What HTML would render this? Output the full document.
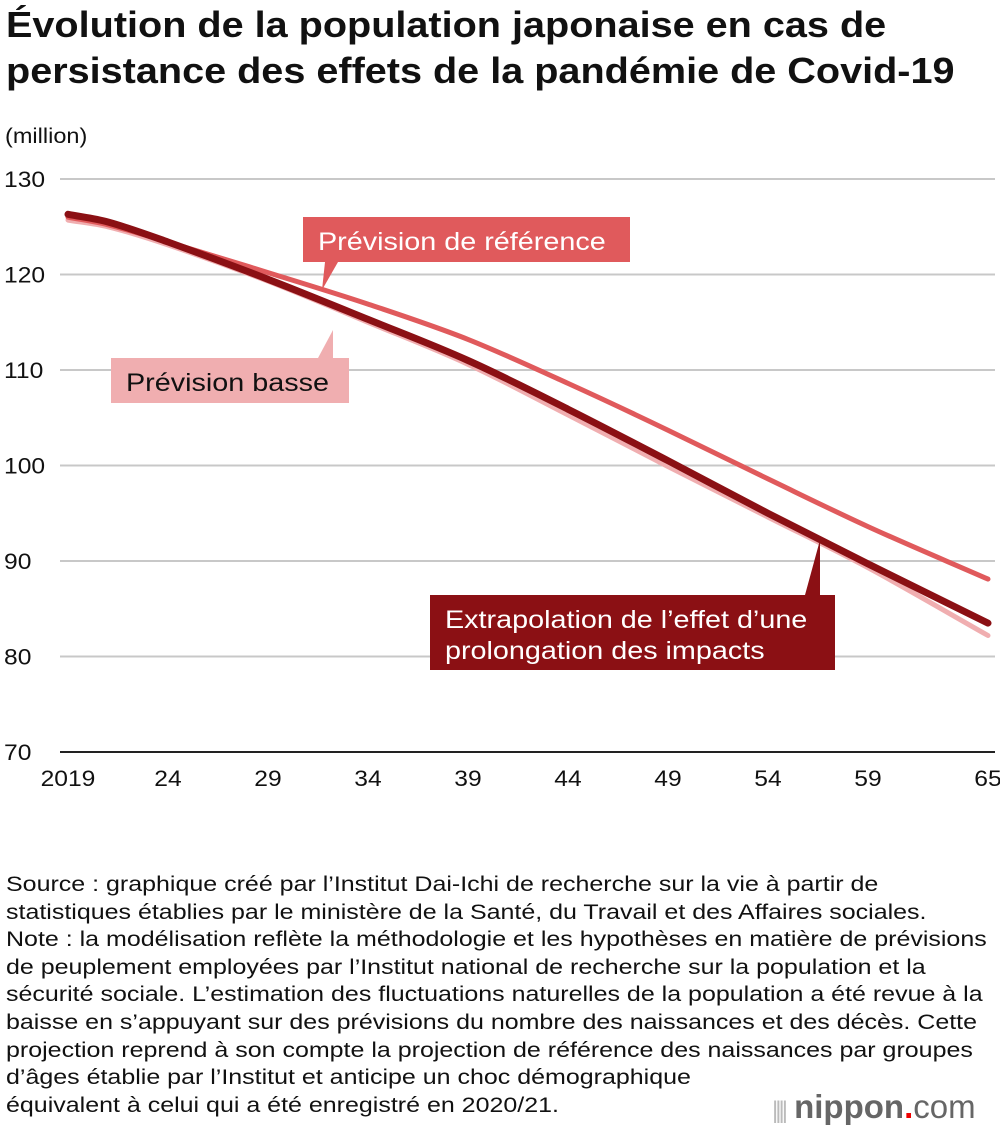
<!DOCTYPE html>
<html><head><meta charset="utf-8"><style>
body{margin:0;background:#fff;font-family:"Liberation Sans",Arial,sans-serif;}
#wrap{position:relative;width:1000px;height:1126px;overflow:hidden;}
h1{position:absolute;left:6px;top:2px;margin:0;font-size:36px;line-height:46px;font-weight:bold;color:#111;transform:scaleX(1.1);transform-origin:0 0;white-space:nowrap;}
#note{position:absolute;left:6px;top:871px;font-size:21px;line-height:27.6px;color:#111;margin:0;transform:scaleX(1.19);transform-origin:0 0;white-space:nowrap;}
#logo{position:absolute;left:772px;top:1088px;font-size:33px;color:#666;font-weight:bold;}
</style></head><body>
<div id="wrap">
<h1>Évolution de la population japonaise en cas de<br>persistance des effets de la pandémie de Covid-19</h1>
<svg id="chart" width="1000" height="860" style="position:absolute;left:0;top:0"></svg>
<p id="note">Source : graphique créé par l’Institut Dai-Ichi de recherche sur la vie à partir de<br>statistiques établies par le ministère de la Santé, du Travail et des Affaires sociales.<br>Note : la modélisation reflète la méthodologie et les hypothèses en matière de prévisions<br>de peuplement employées par l’Institut national de recherche sur la population et la<br>sécurité sociale. L’estimation des fluctuations naturelles de la population a été revue à la<br>baisse en s’appuyant sur des prévisions du nombre des naissances et des décès. Cette<br>projection reprend à son compte la projection de référence des naissances par groupes<br>d’âges établie par l’Institut et anticipe un choc démographique<br>équivalent à celui qui a été enregistré en 2020/21.</p>
<div id="logo"><span style="font-weight:normal;color:#bbb;font-size:24px;letter-spacing:-3px">||||</span> nippon<span style="color:#e00">.</span><span style="font-weight:normal">com</span></div>
</div>
<script>
const years=[2019,2021,2024,2029,2034,2039,2044,2049,2054,2059,2065];
const refVals=[126.0,125.2,123.4,120.2,116.9,113.2,108.6,103.7,98.6,93.6,88.1];
const lowVals=[125.7,125.0,123.1,119.3,115.0,110.6,105.3,99.9,94.6,89.3,82.2];
const proVals=[126.3,125.5,123.4,119.5,115.3,111.0,105.9,100.5,95.0,89.7,83.5];
const yTicks=[70,80,90,100,110,120,130];
const xTicks=[2019,2024,2029,2034,2039,2044,2049,2054,2059,2065];
const xTickLabels=["2019","24","29","34","39","44","49","54","59","65"];
const NS="http://www.w3.org/2000/svg";
const svg=document.getElementById('chart');
const X=v=>68+(v-2019)*20;
const Y=v=>179+(130-v)*9.55;
function mk(t,a,p){const e=document.createElementNS(NS,t);for(const k in a)e.setAttribute(k,a[k]);(p||svg).appendChild(e);return e;}
function stretch(el,f){const w=el.getComputedTextLength();el.setAttribute('textLength',(w*f).toFixed(1));el.setAttribute('lengthAdjust','spacingAndGlyphs');}
let t=mk('text',{x:5,y:143,'font-size':21,fill:'#111'});t.textContent='(million)';


stretch(t,1.12);
yTicks.forEach(v=>{
 const l=mk('line',{x1:60,x2:995,y1:Y(v),y2:Y(v),stroke:v===70?'#222':'#c8c8c8','stroke-width':2});
 
 
 const tx=mk('text',{x:4,y:Y(v)+8,'font-size':22,fill:'#111'});tx.textContent=v;
 
 
 stretch(tx,1.12);
});
xTicks.forEach((v,i)=>{
 const tx=mk('text',{x:X(v),y:786,'font-size':22,fill:'#111','text-anchor':'middle'});tx.textContent=xTickLabels[i];
 
 
 stretch(tx,1.12);
});
function smooth(pts){
 let d='M'+pts[0][0].toFixed(1)+','+pts[0][1].toFixed(1);
 for(let i=0;i<pts.length-1;i++){
  const p0=pts[i-1]||pts[i],p1=pts[i],p2=pts[i+1],p3=pts[i+2]||p2;
  const t1=(p2[0]-p1[0])/(p2[0]-p0[0]||1),t2=(p2[0]-p1[0])/(p3[0]-p1[0]||1);
  const c1=[p1[0]+(p2[0]-p0[0])*t1/3,p1[1]+(p2[1]-p0[1])*t1/3];
  const c2=[p2[0]-(p3[0]-p1[0])*t2/3,p2[1]-(p3[1]-p1[1])*t2/3];
  d+=' C'+c1.map(n=>n.toFixed(1))+' '+c2.map(n=>n.toFixed(1))+' '+p2.map(n=>n.toFixed(1));
 }
 return d;
}
function line(vals,color,w,name){
 const pts=vals.map((v,i)=>[X(years[i]),Y(v)]);
 const p=mk('path',{d:smooth(pts),fill:'none',stroke:color,'stroke-width':w,'stroke-linecap':'round','stroke-linejoin':'round'});
 
 
}
line(lowVals,'#f0aeb0',5,'line-prevision-basse');
line(refVals,'#e05a5c',5,'line-prevision-reference');
line(proVals,'#8b1014',7,'line-prolongation');
function label(x,y,w,h,color,tcol,lines,tri,name){
 const g=mk('g',{});
 
 
 mk('polygon',{points:tri,fill:color},g);
 mk('rect',{x:x,y:y,width:w,height:h,fill:color},g);
 lines.forEach((s,i)=>{const tx=mk('text',{x:x+15,y:y+33+i*31,'font-size':25,fill:tcol},g);tx.textContent=s;stretch(tx,1.15);});
}
label(303,217,327,45,'#e05a5c','#fff',['Prévision de référence'],'325,262 338,262 322,290','label-reference');
label(111,358,238,45,'#f0aeb0','#111',['Prévision basse'],'318,358 333,358 333,330','label-basse');
label(430,595,405,75,'#8b1014','#fff',['Extrapolation de l’effet d’une','prolongation des impacts'],'805,595 820,595 820,540','label-prolongation');
</script>
</body></html>
